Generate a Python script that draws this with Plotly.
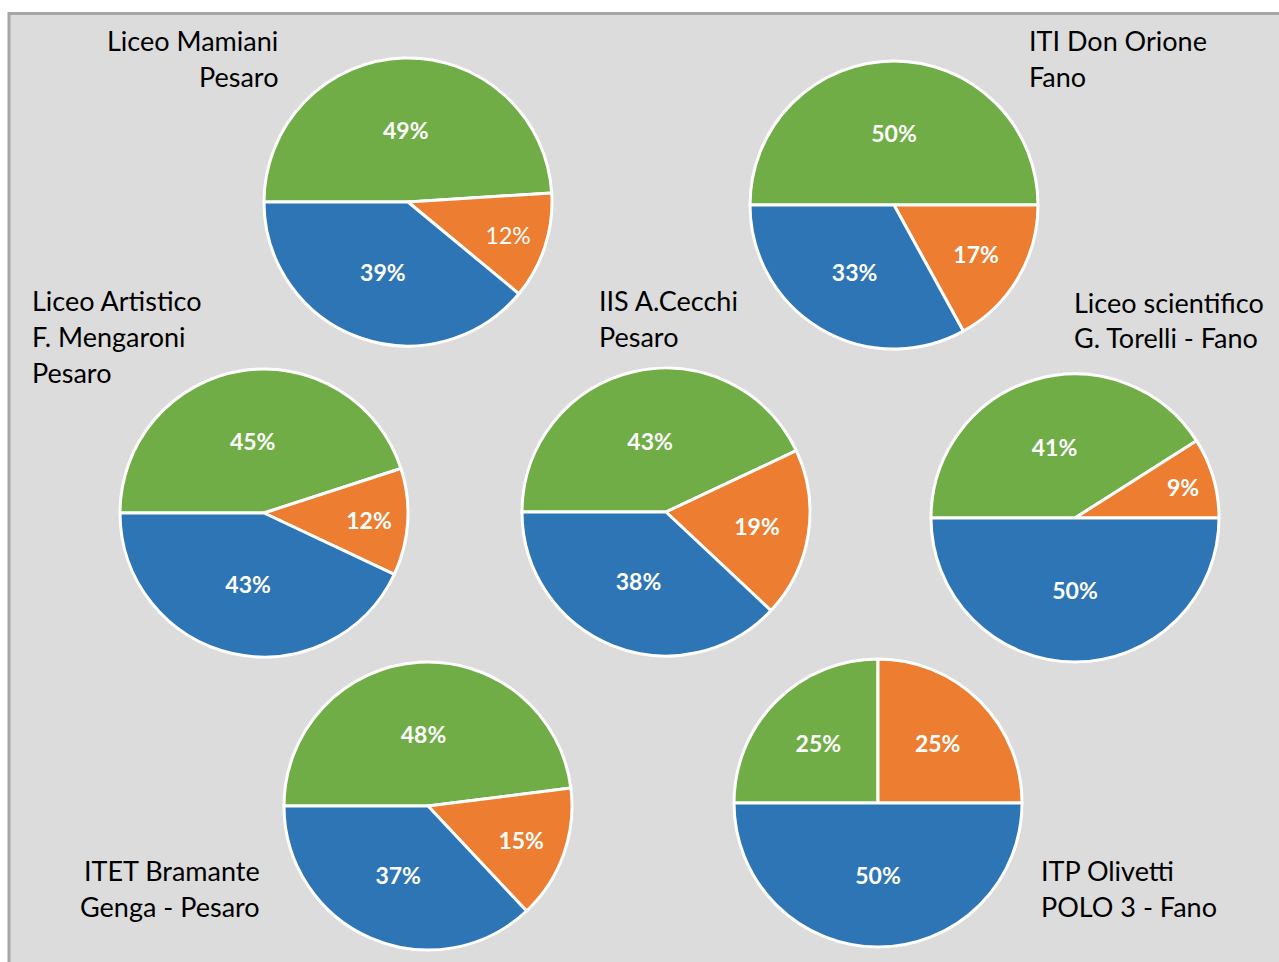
import plotly.graph_objects as go

# ---- data ----
schools = [
    ["Liceo Mamiani", "Pesaro"],
    ["ITI Don Orione", "Fano"],
    ["Liceo Artistico", "F. Mengaroni", "Pesaro"],
    ["IIS A.Cecchi", "Pesaro"],
    ["Liceo scientifico", "G. Torelli - Fano"],
    ["ITET Bramante", "Genga - Pesaro"],
    ["ITP Olivetti", "POLO 3 - Fano"],
]
categories = ["Verde", "Arancione", "Blu"]
green_vals = [49, 50, 45, 43, 41, 48, 25]
orange_vals = [12, 17, 12, 19, 9, 15, 25]
blue_vals = [39, 33, 43, 38, 50, 37, 50]

# ---- layout (pixel positions) ----
W, H = 1279, 962
R = 144
centers = [(408, 202), (894, 205), (264, 513), (666, 512), (1075, 518), (428, 806), (878, 803)]
label_pos = [  # (x, first-line y, anchor)
    (280, 40, "right"),
    (1027, 40, "left"),
    (30, 300, "left"),
    (597, 300, "left"),
    (1072, 302, "left"),
    (262, 870, "right"),
    (1039, 870, "left"),
]
LINE = 36
colors = ["#70AD47", "#ED7D31", "#2E75B6"]

fig = go.Figure()
for i, (cx, cy) in enumerate(centers):
    vals = [green_vals[i], orange_vals[i], blue_vals[i]]
    texts = []
    for j, v in enumerate(vals):
        t = f"{v}%"
        if not (i == 0 and j == 1):
            t = f"<b>{t}</b>"
        texts.append(t)
    fig.add_trace(go.Pie(
        labels=categories, values=vals, text=texts, textinfo="text",
        sort=False, direction="clockwise", rotation=270,
        marker=dict(colors=colors, line=dict(color="white", width=3)),
        textposition="inside", insidetextorientation="horizontal",
        textfont=dict(family="Lato", size=23, color="white"),
        domain=dict(x=[(cx - R) / W, (cx + R) / W], y=[1 - (cy + R) / H, 1 - (cy - R) / H]),
        showlegend=False, hoverinfo="label+percent",
    ))

for i, (lx, ly, anc) in enumerate(label_pos):
    for k, line in enumerate(schools[i]):
        fig.add_annotation(
            x=lx / W, y=1 - (ly + k * LINE) / H, xref="paper", yref="paper",
            text=line, showarrow=False, xanchor=anc, yanchor="middle",
            font=dict(family="Lato", size=27, color="black"),
        )

fig.add_shape(type="rect", xref="paper", yref="paper",
              x0=9 / W, x1=1300 / W, y0=-0.05, y1=1 - 13.5 / H,
              fillcolor="#DCDCDC", line=dict(color="#A6A6A6", width=3), layer="below")

fig.update_layout(width=W, height=H, margin=dict(l=0, r=0, t=0, b=0),
                  paper_bgcolor="white", plot_bgcolor="white")
fig.write_html("out.html", config={"displayModeBar": False},
               post_script="document.body.style.margin='0';")
